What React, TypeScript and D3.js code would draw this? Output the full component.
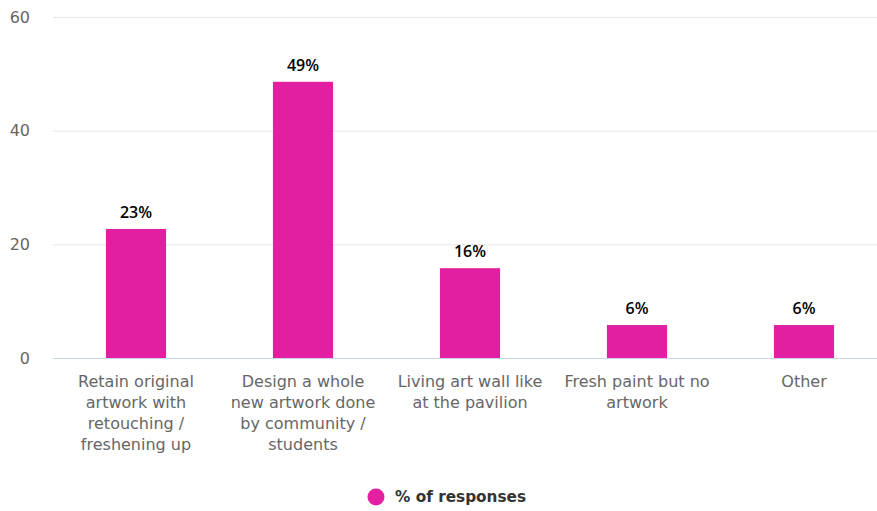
import React from "react";
import * as d3 from "d3";

const categories: string[][] = [
  ["Retain original", "artwork with", "retouching /", "freshening up"],
  ["Design a whole", "new artwork done", "by community /", "students"],
  ["Living art wall like", "at the pavilion"],
  ["Fresh paint but no", "artwork"],
  ["Other"],
];
const values = [22.7, 48.6, 15.8, 5.8, 5.8];
const yTicks = [0, 20, 40, 60];
const seriesName = "% of responses";

const W = 877;
const H = 511;
const FONT = "'DejaVu Sans', Verdana, sans-serif";
const LABEL_FONT = "'Open Sans', 'DejaVu Sans', sans-serif";

export default function App() {
  const ids = categories.map((_, i) => String(i));
  const x = d3.scaleBand<string>().domain(ids).range([52.5, 887.5]).padding(0);
  const y = d3.scaleLinear().domain([0, 60]).range([358, 17]);
  const bw = x.bandwidth() * 0.36;
  const color = "#e21fa0";

  return (
    <svg width={W} height={H} style={{ position: "absolute", left: 0, top: 0, background: "#fff" }}>
      {yTicks.map((t) => (
        <g key={t}>
          {t !== 0 && (
            <line x1={53} x2={877} y1={y(t) + 0.5} y2={y(t) + 0.5} stroke="#e6e6e6" strokeWidth={1} />
          )}
          <text x={30} y={y(t)} dy="0.35em" textAnchor="end" fontFamily={FONT} fontSize={16} fill="#666">
            {t}
          </text>
        </g>
      ))}
      {values.map((v, i) => {
        const cx = (x(String(i)) as number) + x.bandwidth() / 2;
        return (
          <g key={i}>
            <rect x={cx - bw / 2} y={y(v)} width={bw} height={y(0) - y(v)} fill={color} />
            <text x={cx} y={y(v) - 11} textAnchor="middle" fontFamily={LABEL_FONT} fontSize={16} fontWeight={600} fill="#000">
              {Math.round(v)}%
            </text>
          </g>
        );
      })}
      <line x1={53} x2={877} y1={y(0) + 0.5} y2={y(0) + 0.5} stroke="#ccd6eb" strokeWidth={1} />
      {categories.map((lines, i) => {
        const cx = (x(String(i)) as number) + x.bandwidth() / 2;
        return (
          <text key={i} textAnchor="middle" fontFamily={FONT} fontSize={16} fill="#666">
            {lines.map((l, j) => (
              <tspan key={j} x={cx} y={387 + j * 21}>
                {l}
              </tspan>
            ))}
          </text>
        );
      })}
      <circle cx={376} cy={497} r={8.5} fill={color} />
      <text x={395} y={497} dy="0.35em" fontFamily={FONT} fontSize={15.3} fontWeight="bold" fill="#333">
        {seriesName}
      </text>
    </svg>
  );
}
